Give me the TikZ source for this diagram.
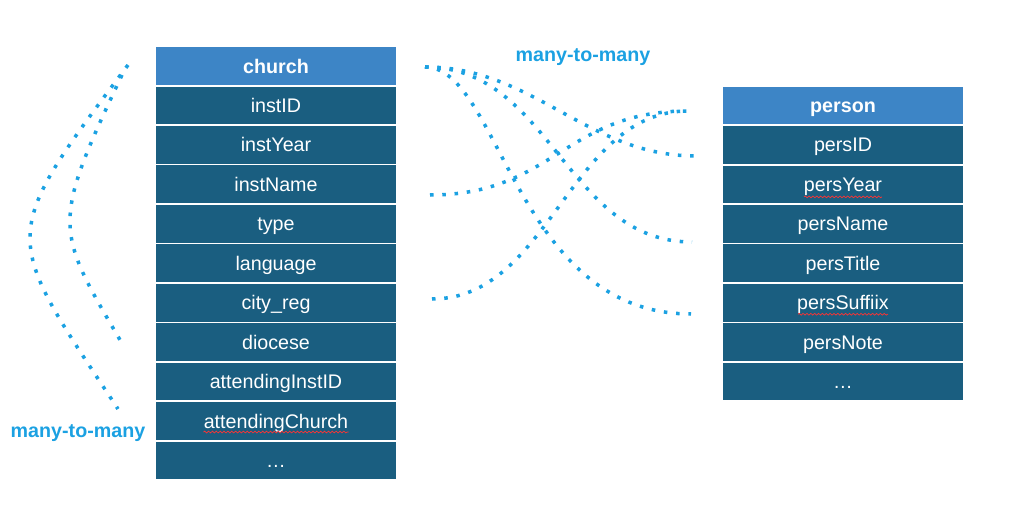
\documentclass[tikz,border=0pt]{standalone}
\usepackage{fontspec}
\setmainfont{Liberation Sans}
\usepackage{xcolor}
\usepackage{tikz}
\usetikzlibrary{calc}
\usetikzlibrary{positioning}
\usetikzlibrary{decorations.pathmorphing}
\definecolor{headblue}{HTML}{3D85C6}
\definecolor{rowblue}{HTML}{1A5E80}
\definecolor{linkblue}{HTML}{1BA1E2}

\begin{document}
\begin{tikzpicture}[node distance=0.789cm, font=\fontsize{11.2}{13}\selectfont]
 	\tikzstyle{head}=[rectangle, fill=headblue, draw=white, line width=1pt, minimum width=4.83cm, minimum height=0.789cm, inner sep=0pt, text height=8pt, text depth=0pt, text=white, font=\fontsize{11.2}{13}\selectfont\bfseries]
 	\tikzstyle{field}=[head, fill=rowblue, font=\fontsize{11.2}{13}\selectfont]
 	\tikzstyle{link}=[linkblue, line width=2pt, dash pattern=on 2pt off 5pt]
 	\tikzstyle{card}=[text=linkblue, font=\fontsize{11.2}{13}\selectfont\bfseries]
 	\tikzstyle{typo}=[red!80, line width=0.4pt, decorate, decoration={snake, amplitude=0.5pt, segment length=2.2pt}]
 	\useasboundingbox (0,0) rectangle (20.48,-10.46);
 	% church table
 	\node[head]  (church)     at (5.52,-1.32)          {church};
 	\node[field] (instID)     [below of=church]        {instID};
 	\node[field] (instYear)   [below of=instID]        {instYear};
 	\node[field] (instName)   [below of=instYear]      {instName};
 	\node[field] (type)       [below of=instName]      {type};
 	\node[field] (language)   [below of=type]          {language};
 	\node[field] (cityReg)    [below of=language]      {city\_reg};
 	\node[field] (diocese)    [below of=cityReg]       {diocese};
 	\node[field] (attInstID)  [below of=diocese]       {attendingInstID};
 	\node[field] (attChurch)  [below of=attInstID]     {attendingChurch};
 	\node[field] (churchMore) [below of=attChurch]     {…};
 	% person table
 	\node[head]  (person)     at (16.86,-2.11)         {person};
 	\node[field] (persID)     [below of=person]        {persID};
 	\node[field] (persYear)   [below of=persID]        {persYear};
 	\node[field] (persName)   [below of=persYear]      {persName};
 	\node[field] (persTitle)  [below of=persName]      {persTitle};
 	\node[field] (persSuffix) [below of=persTitle]     {persSuffiix};
 	\node[field] (persNote)   [below of=persSuffix]    {persNote};
 	\node[field] (persMore)   [below of=persNote]      {…};
 	% spelling marks
 	\draw[typo] ($(attChurch)+(-1.45,-0.22)$) -- ($(attChurch)+(1.45,-0.22)$);
 	\draw[typo] ($(persYear)+(-0.78,-0.25)$) -- ($(persYear)+(0.78,-0.25)$);
 	\draw[typo] ($(persSuffix)+(-0.9,-0.23)$) -- ($(persSuffix)+(0.9,-0.23)$);
 	% labels
 	\node[card] (mmTop)  at (11.66,-1.14) {many-to-many};
 	\node[card] (mmLeft) at (1.56,-8.66)  {many-to-many};
 	% curve ends
 	\coordinate (chR)   at (8.5,-1.34);
 	\coordinate (cName) at (8.6,-3.9);
 	\coordinate (cCity) at (8.64,-5.98);
 	\coordinate (pHead) at (13.76,-2.22);
 	\coordinate (pID)   at (13.92,-3.12);
 	\coordinate (pName) at (13.84,-4.84);
 	\coordinate (pSuf)  at (13.82,-6.28);
 	\coordinate (lTopA) at (2.56,-1.3);
 	\coordinate (lBotA) at (2.36,-8.18);
 	\coordinate (lTopB) at (2.44,-1.5);
 	\coordinate (lBotB) at (2.46,-6.9);
 	% many-to-many links
 	\draw[link] (chR) .. controls +(2.18,0) and +(-2.18,0) .. (pID);
 	\draw[link] (chR) .. controls +(2.52,0) and +(-2.52,0) .. (pName);
 	\draw[link] (chR) .. controls +(1.5,0) and +(-3.52,0) .. (pSuf);
 	\draw[link] (cName) .. controls +(2.46,0) and +(-2.46,0) .. (pHead);
 	\draw[link] (cCity) .. controls +(2.36,0) and +(-2.36,0) .. (pHead);
 	\draw[link] (lTopA) .. controls +(-2.64,-3.52) and +(-2.32,3.52) .. (lBotA);
 	\draw[link] (lTopB) .. controls +(-1.44,-3.04) and +(-1.36,2.32) .. (lBotB);
\end{tikzpicture}
\end{document}
